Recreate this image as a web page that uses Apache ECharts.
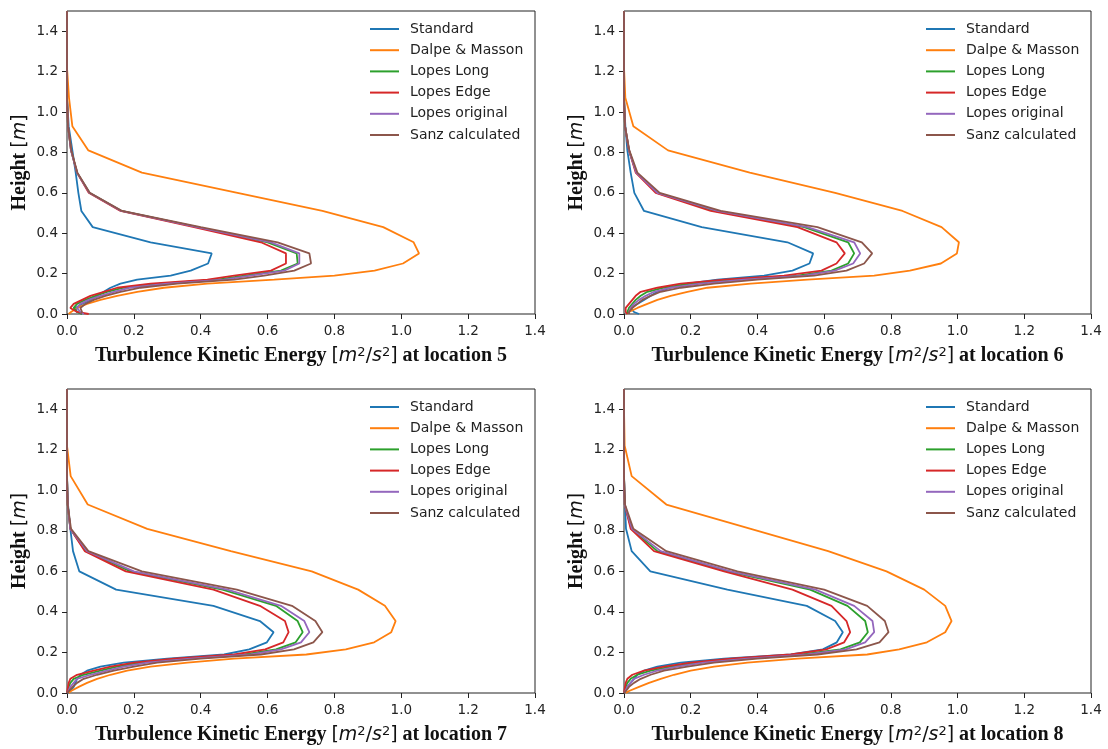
<!DOCTYPE html>
<html>
<head>
<meta charset="utf-8">
<script src="https://cdn.jsdelivr.net/npm/echarts@6/dist/echarts.min.js"></script>
<style>
html,body{margin:0;padding:0;background:#fff;}
#chart{width:1108px;height:749px;}
</style>
</head>
<body>
<div id="chart"></div>
<script>
// ---- data ----
const heights = [0, 0.01, 0.03, 0.05, 0.07, 0.09, 0.11, 0.13, 0.15, 0.17, 0.19, 0.215, 0.25, 0.30, 0.355, 0.43, 0.51, 0.60, 0.70, 0.81, 0.93, 1.07, 1.22, 1.40, 1.50];
const xTicks = [0, 0.2, 0.4, 0.6, 0.8, 1.0, 1.2, 1.4];
const yTicks = [0, 0.2, 0.4, 0.6, 0.8, 1.0, 1.2, 1.4];
const seriesNames = ['Standard', 'Dalpe & Masson', 'Lopes Long', 'Lopes Edge', 'Lopes original', 'Sanz calculated'];
const locations = ['5', '6', '7', '8'];

// location 5
const loc5_standard = [0.045, 0.03, 0.025, 0.045, 0.07, 0.09, 0.11, 0.13, 0.16, 0.21, 0.31, 0.37, 0.422, 0.433, 0.25, 0.077, 0.043, 0.034, 0.026, 0.016, 0.005, 0, 0, 0, 0];
const loc5_dalpe    = [0.005, 0.012, 0.03, 0.06, 0.10, 0.15, 0.21, 0.29, 0.42, 0.62, 0.80, 0.92, 1.005, 1.053, 1.037, 0.946, 0.764, 0.51, 0.224, 0.064, 0.016, 0.006, 0, 0, 0];
const loc5_long     = [0.045, 0.03, 0.02, 0.03, 0.055, 0.085, 0.12, 0.17, 0.28, 0.45, 0.53, 0.64, 0.69, 0.687, 0.60, 0.39, 0.163, 0.067, 0.03, 0.012, 0.003, 0, 0, 0, 0];
const loc5_edge     = [0.065, 0.03, 0.01, 0.02, 0.045, 0.07, 0.11, 0.15, 0.25, 0.42, 0.50, 0.61, 0.655, 0.655, 0.58, 0.38, 0.16, 0.065, 0.03, 0.012, 0.003, 0, 0, 0, 0];
const loc5_original = [0.05, 0.04, 0.03, 0.04, 0.065, 0.10, 0.14, 0.19, 0.30, 0.47, 0.55, 0.65, 0.695, 0.695, 0.61, 0.39, 0.163, 0.067, 0.03, 0.012, 0.003, 0, 0, 0, 0];
const loc5_sanz     = [0.04, 0.045, 0.04, 0.055, 0.08, 0.115, 0.16, 0.22, 0.33, 0.50, 0.59, 0.68, 0.73, 0.725, 0.63, 0.40, 0.165, 0.068, 0.031, 0.013, 0.003, 0, 0, 0, 0];

// location 6
const loc6_standard = [0.045, 0.03, 0.02, 0.04, 0.06, 0.08, 0.10, 0.14, 0.19, 0.28, 0.42, 0.505, 0.556, 0.567, 0.49, 0.233, 0.06, 0.031, 0.02, 0.01, 0.004, 0, 0, 0, 0];
const loc6_dalpe    = [0.01, 0.015, 0.04, 0.07, 0.10, 0.14, 0.19, 0.25, 0.38, 0.55, 0.75, 0.857, 0.95, 0.998, 1.004, 0.952, 0.835, 0.633, 0.377, 0.132, 0.028, 0.004, 0, 0, 0];
const loc6_long     = [0.01, 0.01, 0.015, 0.025, 0.035, 0.05, 0.07, 0.12, 0.20, 0.33, 0.52, 0.622, 0.672, 0.69, 0.672, 0.54, 0.27, 0.10, 0.037, 0.015, 0.003, 0, 0, 0, 0];
const loc6_edge     = [0.01, 0.005, 0.005, 0.015, 0.025, 0.035, 0.05, 0.10, 0.17, 0.30, 0.48, 0.592, 0.637, 0.662, 0.637, 0.52, 0.26, 0.095, 0.035, 0.015, 0.003, 0, 0, 0, 0];
const loc6_original = [0.015, 0.015, 0.02, 0.03, 0.045, 0.065, 0.09, 0.14, 0.23, 0.36, 0.54, 0.632, 0.687, 0.708, 0.69, 0.55, 0.28, 0.10, 0.037, 0.015, 0.003, 0, 0, 0, 0];
const loc6_sanz     = [0.015, 0.015, 0.025, 0.04, 0.055, 0.08, 0.11, 0.17, 0.27, 0.40, 0.57, 0.667, 0.72, 0.744, 0.713, 0.58, 0.29, 0.107, 0.04, 0.016, 0.003, 0, 0, 0, 0];

// location 7
const loc7_standard = [0.003, 0.01, 0.02, 0.025, 0.03, 0.04, 0.06, 0.10, 0.17, 0.30, 0.47, 0.545, 0.598, 0.618, 0.577, 0.438, 0.147, 0.037, 0.018, 0.01, 0.003, 0, 0, 0, 0];
const loc7_dalpe    = [0.005, 0.012, 0.035, 0.06, 0.09, 0.13, 0.18, 0.25, 0.36, 0.50, 0.716, 0.834, 0.919, 0.97, 0.983, 0.951, 0.871, 0.732, 0.49, 0.24, 0.062, 0.011, 0, 0, 0];
const loc7_long     = [0, 0.002, 0.005, 0.01, 0.02, 0.05, 0.10, 0.15, 0.22, 0.35, 0.53, 0.625, 0.684, 0.705, 0.69, 0.625, 0.465, 0.19, 0.056, 0.01, 0.002, 0, 0, 0, 0];
const loc7_edge     = [0, 0.001, 0.003, 0.005, 0.01, 0.03, 0.08, 0.13, 0.20, 0.32, 0.50, 0.593, 0.647, 0.663, 0.652, 0.577, 0.438, 0.176, 0.053, 0.01, 0.002, 0, 0, 0, 0];
const loc7_original = [0, 0.004, 0.01, 0.02, 0.03, 0.07, 0.12, 0.17, 0.24, 0.37, 0.55, 0.64, 0.70, 0.725, 0.71, 0.64, 0.48, 0.20, 0.06, 0.01, 0.002, 0, 0, 0, 0];
const loc7_sanz     = [0, 0.006, 0.017, 0.03, 0.05, 0.09, 0.14, 0.20, 0.27, 0.40, 0.58, 0.679, 0.737, 0.764, 0.743, 0.673, 0.508, 0.224, 0.064, 0.012, 0.002, 0, 0, 0, 0];

// location 8
const loc8_standard = [0.002, 0.005, 0.01, 0.02, 0.03, 0.04, 0.06, 0.10, 0.17, 0.30, 0.50, 0.596, 0.638, 0.656, 0.633, 0.548, 0.31, 0.079, 0.023, 0.006, 0.003, 0, 0, 0, 0];
const loc8_dalpe    = [0.005, 0.015, 0.045, 0.075, 0.11, 0.15, 0.20, 0.27, 0.37, 0.52, 0.729, 0.825, 0.908, 0.963, 0.982, 0.963, 0.90, 0.787, 0.612, 0.38, 0.127, 0.023, 0.002, 0, 0];
const loc8_long     = [0, 0.002, 0.005, 0.01, 0.02, 0.04, 0.08, 0.14, 0.22, 0.35, 0.53, 0.649, 0.707, 0.731, 0.723, 0.67, 0.558, 0.31, 0.10, 0.022, 0.002, 0, 0, 0, 0];
const loc8_edge     = [0, 0.001, 0.003, 0.005, 0.01, 0.025, 0.06, 0.12, 0.20, 0.32, 0.50, 0.606, 0.66, 0.678, 0.667, 0.622, 0.505, 0.30, 0.09, 0.02, 0.002, 0, 0, 0, 0];
const loc8_original = [0, 0.004, 0.01, 0.02, 0.03, 0.06, 0.10, 0.16, 0.24, 0.37, 0.55, 0.665, 0.723, 0.75, 0.745, 0.69, 0.574, 0.32, 0.11, 0.024, 0.002, 0, 0, 0, 0];
const loc8_sanz     = [0, 0.006, 0.015, 0.03, 0.05, 0.08, 0.12, 0.19, 0.27, 0.40, 0.58, 0.697, 0.766, 0.793, 0.782, 0.729, 0.60, 0.34, 0.127, 0.028, 0.003, 0, 0, 0, 0];

const panelData = [
  [loc5_standard, loc5_dalpe, loc5_long, loc5_edge, loc5_original, loc5_sanz],
  [loc6_standard, loc6_dalpe, loc6_long, loc6_edge, loc6_original, loc6_sanz],
  [loc7_standard, loc7_dalpe, loc7_long, loc7_edge, loc7_original, loc7_sanz],
  [loc8_standard, loc8_dalpe, loc8_long, loc8_edge, loc8_original, loc8_sanz]
];

// ---- style / layout ----
const colors = ['#1f77b4', '#ff7f0e', '#2ca02c', '#d62728', '#9467bd', '#8c564b'];
const gridBoxes = [
  {left: 67, top: 11, width: 468, height: 303},
  {left: 624, top: 11, width: 467, height: 303},
  {left: 67, top: 389, width: 468, height: 304},
  {left: 624, top: 389, width: 467, height: 304}
];
const legendPos = [
  {left: 370, top: 22},
  {left: 926, top: 22},
  {left: 370, top: 400},
  {left: 926, top: 400}
];
const ink = '#222';
const rich = {
  b: {fontFamily: 'Liberation Serif', fontWeight: 'bold', fontSize: 20, color: '#111'},
  n: {fontFamily: 'DejaVu Sans', fontSize: 19, color: '#111'},
  i: {fontFamily: 'DejaVu Sans', fontStyle: 'italic', fontSize: 19, color: '#111'},
  s: {fontFamily: 'DejaVu Sans', fontSize: 13, color: '#111', verticalAlign: 'top', lineHeight: 14}
};

const grid = [], xAxis = [], yAxis = [], series = [], legend = [];
for (let p = 0; p < 4; p++) {
  grid.push(Object.assign({show: true, borderColor: ink, borderWidth: 1, backgroundColor: 'transparent'}, gridBoxes[p]));
  xAxis.push({
    gridIndex: p, type: 'value', min: 0, max: 1.4, interval: 0.2,
    splitLine: {show: false}, axisLine: {show: false},
    axisTick: {show: true, inside: false, length: 5, lineStyle: {color: ink}, customValues: xTicks},
    axisLabel: {fontFamily: 'DejaVu Sans', fontSize: 13.5, color: ink, margin: 10,
      customValues: xTicks, formatter: v => Number(v).toFixed(1)},
    name: '{b|Turbulence Kinetic Energy }{n|[}{i|m}{s|2}{n|/}{i|s}{s|2}{n|]}{b| at location ' + locations[p] + '}',
    nameLocation: 'middle', nameGap: 32,
    nameTextStyle: {rich: rich}
  });
  yAxis.push({
    gridIndex: p, type: 'value', min: 0, max: 1.5, interval: 0.2,
    splitLine: {show: false}, axisLine: {show: false},
    axisTick: {show: true, inside: false, length: 5, lineStyle: {color: ink}, customValues: yTicks},
    axisLabel: {fontFamily: 'DejaVu Sans', fontSize: 13.5, color: ink, margin: 9,
      customValues: yTicks, formatter: v => Number(v).toFixed(1)},
    name: '{b|Height }{n|[}{i|m}{n|]}',
    nameLocation: 'middle', nameGap: 37, nameRotate: 90,
    nameTextStyle: {rich: rich}
  });
  for (let s = 0; s < 6; s++) {
    const vals = panelData[p][s];
    series.push({
      type: 'line', name: seriesNames[s], xAxisIndex: p, yAxisIndex: p,
      data: vals.map((v, k) => [v, heights[k]]),
      symbol: 'none', showSymbol: false, animation: false,
      lineStyle: {color: colors[s], width: 1.8},
      itemStyle: {color: colors[s]}
    });
  }
  legend.push({
    orient: 'vertical', left: legendPos[p].left, top: legendPos[p].top,
    padding: 0, itemWidth: 29, itemHeight: 2, itemGap: 7.2, icon: 'rect',
    data: seriesNames, selectedMode: false,
    textStyle: {fontFamily: 'DejaVu Sans', fontSize: 14, color: ink, lineHeight: 14, padding: [0, 0, 0, 6]}
  });
}

const chart = echarts.init(document.getElementById('chart'), null, {renderer: 'canvas'});
chart.setOption({
  animation: false,
  color: colors,
  grid: grid, xAxis: xAxis, yAxis: yAxis, legend: legend, series: series
});
</script>
</body>
</html>
